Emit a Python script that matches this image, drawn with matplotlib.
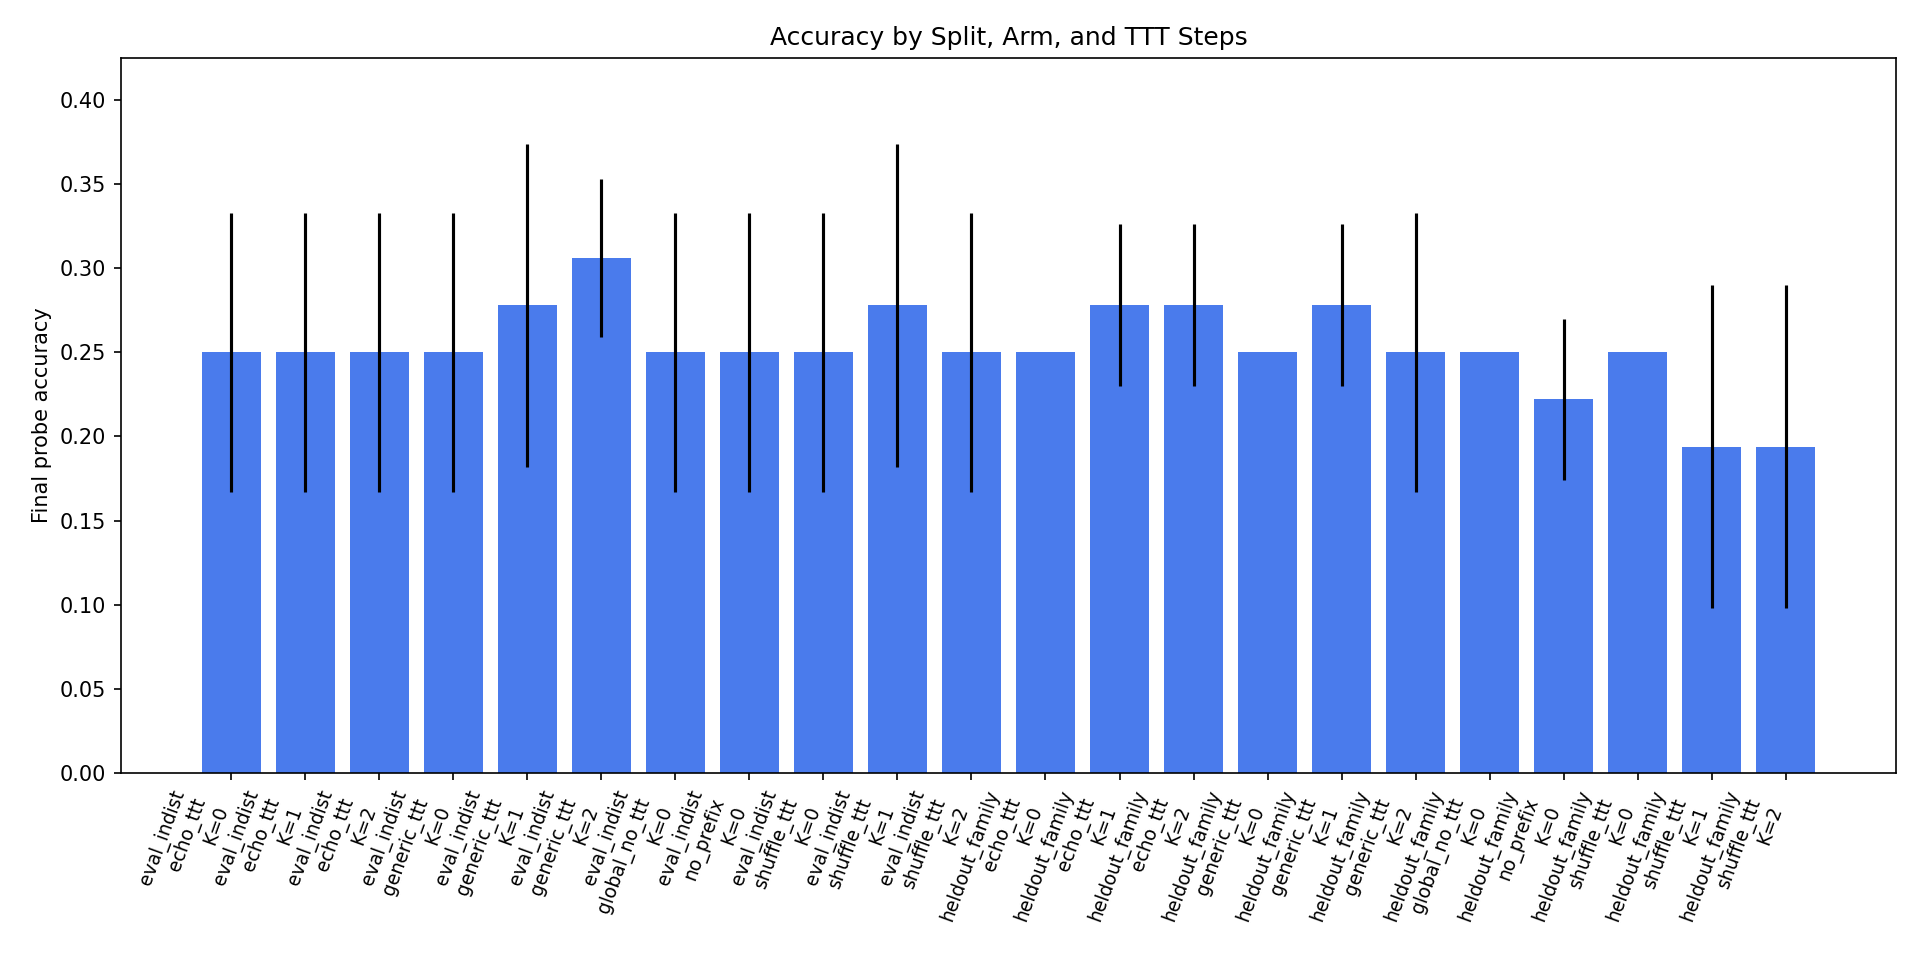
import numpy as np
import matplotlib
matplotlib.use("Agg")
import matplotlib.pyplot as plt

# splits / arms / ttt steps per bar
splits = ["eval_indist"] * 11 + ["heldout_family"] * 11
arms = ["echo_ttt", "echo_ttt", "echo_ttt",
        "generic_ttt", "generic_ttt", "generic_ttt",
        "global_no_ttt", "no_prefix",
        "shuffle_ttt", "shuffle_ttt", "shuffle_ttt"] * 2
steps = [0, 1, 2, 0, 1, 2, 0, 0, 0, 1, 2] * 2

acc = [0.25, 0.25, 0.25, 0.25, 0.278, 0.306, 0.25, 0.25, 0.25, 0.278, 0.25,
       0.25, 0.278, 0.278, 0.25, 0.278, 0.25, 0.25, 0.222, 0.25, 0.194, 0.194]
err = [0.083, 0.083, 0.083, 0.083, 0.096, 0.047, 0.083, 0.083, 0.083, 0.096, 0.083,
       0.0, 0.048, 0.048, 0.0, 0.048, 0.083, 0.0, 0.048, 0.0, 0.096, 0.096]

labels = [f"{s}\n{a}\nK={k}" for s, a, k in zip(splits, arms, steps)]
x = np.arange(len(acc))

fig, ax = plt.subplots(figsize=(12.8, 6.4), dpi=150)
ax.bar(x, acc, yerr=err, color="#4a7bec")
ax.set_xticks(x)
ax.set_xticklabels(labels, rotation=70, ha="right", fontsize=9)
ax.set_ylim(0, 0.425)
ax.set_ylabel("Final probe accuracy")
ax.set_title("Accuracy by Split, Arm, and TTT Steps")
fig.subplots_adjust(left=0.063, right=0.9875, top=0.9396, bottom=0.195)
plt.savefig("out.png")
